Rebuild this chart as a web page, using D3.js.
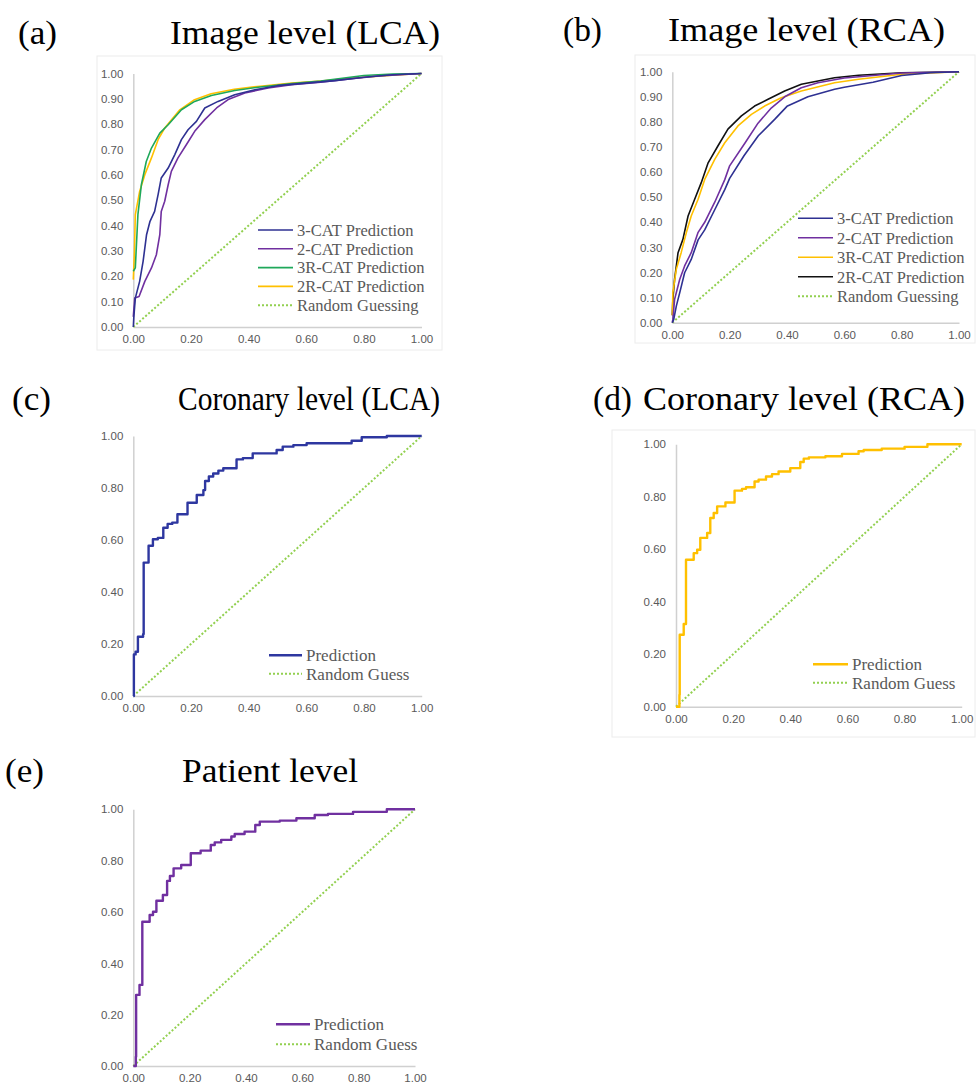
<!DOCTYPE html>
<html>
<head>
<meta charset="utf-8">
<script src="https://cdn.jsdelivr.net/npm/d3@7"></script>
<style>
  body { margin: 0; background: #fff; }
  svg { display: block; }
  .tick text { font-family: "Liberation Sans", Arial, sans-serif; fill: #595959; }
  .title { font-family: "Liberation Serif", "Times New Roman", serif; fill: #000; }
  .legend text { font-family: "Liberation Serif", "Times New Roman", serif; fill: #595959; }
</style>
</head>
<body>
<div class="chart"></div>
<script>
// ---- data: ROC points [FPR, TPR] ----
const diagonal = [[0, 0], [1, 1]];

// (a) Image level (LCA)
const lca3Cat = [[0, 0.0], [0.002, 0.042], [0.007, 0.114], [0.022, 0.18], [0.034, 0.259], [0.046, 0.364], [0.058, 0.417],
  [0.074, 0.456], [0.086, 0.522], [0.097, 0.588], [0.121, 0.627], [0.144, 0.68], [0.167, 0.739], [0.19, 0.778],
  [0.219, 0.811], [0.248, 0.864], [0.294, 0.89], [0.352, 0.916], [0.422, 0.936], [0.5, 0.952], [0.6, 0.962],
  [0.7, 0.972], [0.8, 0.985], [0.9, 0.995], [1, 1]];
const lca2Cat = [[0, 0.04], [0.005, 0.114], [0.02, 0.12], [0.04, 0.18], [0.063, 0.233], [0.08, 0.285], [0.092, 0.364],
  [0.097, 0.456], [0.109, 0.496], [0.121, 0.561], [0.132, 0.614], [0.155, 0.667], [0.184, 0.719], [0.213, 0.772],
  [0.248, 0.818], [0.289, 0.864], [0.329, 0.897], [0.387, 0.923], [0.468, 0.943], [0.55, 0.956], [0.65, 0.966],
  [0.75, 0.978], [0.85, 0.99], [1, 1]];
const lca3RCat = [[0, 0.22], [0.007, 0.233], [0.016, 0.443], [0.028, 0.561], [0.045, 0.653], [0.063, 0.706],
  [0.092, 0.765], [0.121, 0.798], [0.167, 0.857], [0.213, 0.89], [0.271, 0.913], [0.352, 0.933], [0.44, 0.947],
  [0.55, 0.96], [0.65, 0.97], [0.8, 0.992], [0.9, 0.998], [1, 1]];
const lca2RCat = [[0, 0.187], [0.004, 0.3], [0.007, 0.443], [0.022, 0.535], [0.04, 0.601], [0.063, 0.667],
  [0.086, 0.739], [0.109, 0.785], [0.16, 0.855], [0.21, 0.895], [0.27, 0.92], [0.35, 0.938], [0.44, 0.95],
  [0.55, 0.962], [0.65, 0.97], [0.8, 0.985], [0.9, 0.993], [1, 1]];

// (b) Image level (RCA)
const rca3Cat = [[0, 0.0], [0.005, 0.013], [0.014, 0.066], [0.026, 0.12], [0.043, 0.199], [0.066, 0.252],
  [0.09, 0.33], [0.113, 0.37], [0.148, 0.45], [0.183, 0.53], [0.2, 0.575], [0.25, 0.665], [0.3, 0.745],
  [0.357, 0.81], [0.4, 0.862], [0.473, 0.9], [0.566, 0.93], [0.6, 0.938], [0.7, 0.958], [0.8, 0.985],
  [0.9, 0.996], [1, 1]];
const rca2Cat = [[0, 0.0], [0.002, 0.013], [0.008, 0.093], [0.026, 0.173], [0.043, 0.226], [0.066, 0.279],
  [0.09, 0.36], [0.113, 0.4], [0.148, 0.48], [0.183, 0.57], [0.2, 0.625], [0.253, 0.715], [0.299, 0.795],
  [0.345, 0.855], [0.392, 0.9], [0.45, 0.936], [0.508, 0.956], [0.6, 0.975], [0.8, 0.995], [1, 1]];
const rca3RCat = [[0, 0.03], [0.002, 0.12], [0.014, 0.213], [0.031, 0.279], [0.049, 0.359], [0.066, 0.425],
  [0.09, 0.492], [0.113, 0.571], [0.148, 0.651], [0.183, 0.717], [0.229, 0.784], [0.276, 0.83], [0.322, 0.863],
  [0.38, 0.896], [0.45, 0.923], [0.566, 0.956], [0.65, 0.97], [0.8, 0.99], [1, 1]];
const rca2RCat = [[0, 0.03], [0.002, 0.093], [0.008, 0.173], [0.02, 0.279], [0.037, 0.332], [0.055, 0.425],
  [0.078, 0.492], [0.101, 0.558], [0.125, 0.637], [0.159, 0.704], [0.194, 0.771], [0.241, 0.824], [0.287, 0.863],
  [0.334, 0.89], [0.392, 0.923], [0.45, 0.95], [0.566, 0.976], [0.65, 0.986], [0.8, 0.996], [1, 1]];

// (c) Coronary level (LCA) - step curve, [FPR where TPR rises, new TPR]
const coronaryLca = [[0, 0], [0.002, 0.16], [0.008, 0.17], [0.016, 0.228], [0.034, 0.238], [0.036, 0.513],
  [0.053, 0.578], [0.068, 0.603], [0.085, 0.608], [0.104, 0.647], [0.119, 0.662], [0.135, 0.667], [0.153, 0.699],
  [0.188, 0.743], [0.22, 0.773], [0.243, 0.792], [0.249, 0.827], [0.262, 0.844], [0.277, 0.856], [0.295, 0.867],
  [0.312, 0.876], [0.358, 0.91], [0.38, 0.915], [0.414, 0.933], [0.497, 0.946], [0.518, 0.959], [0.555, 0.965],
  [0.601, 0.972], [0.757, 0.982], [0.792, 0.995], [0.879, 1.0], [1, 1]];

// (d) Coronary level (RCA)
const coronaryRca = [[0, 0], [0.012, 0.046], [0.013, 0.274], [0.027, 0.315], [0.035, 0.56], [0.062, 0.585],
  [0.074, 0.598], [0.085, 0.643], [0.109, 0.662], [0.12, 0.719], [0.132, 0.738], [0.144, 0.763], [0.173, 0.778],
  [0.205, 0.823], [0.231, 0.83], [0.245, 0.836], [0.275, 0.858], [0.289, 0.865], [0.315, 0.877], [0.336, 0.886],
  [0.359, 0.896], [0.4, 0.909], [0.435, 0.932], [0.447, 0.945], [0.465, 0.95], [0.523, 0.954], [0.581, 0.963],
  [0.639, 0.973], [0.657, 0.978], [0.72, 0.983], [0.8, 0.99], [0.88, 1.0], [1, 1]];

// (e) Patient level
const patient = [[0, 0], [0.009, 0.036], [0.01, 0.277], [0.022, 0.316], [0.032, 0.562], [0.058, 0.588],
  [0.07, 0.601], [0.082, 0.644], [0.105, 0.666], [0.12, 0.721], [0.13, 0.74], [0.143, 0.77], [0.17, 0.783],
  [0.204, 0.829], [0.239, 0.839], [0.275, 0.861], [0.289, 0.871], [0.312, 0.881], [0.348, 0.894], [0.36, 0.904],
  [0.395, 0.913], [0.433, 0.939], [0.449, 0.952], [0.52, 0.956], [0.579, 0.965], [0.644, 0.978], [0.691, 0.982],
  [0.78, 0.99], [0.9, 1.0], [1, 1]];

const xTicks = [0, 0.2, 0.4, 0.6, 0.8, 1.0];
const yTicksFine = [0, 0.1, 0.2, 0.3, 0.4, 0.5, 0.6, 0.7, 0.8, 0.9, 1.0];
const yTicksCoarse = [0, 0.2, 0.4, 0.6, 0.8, 1.0];

const navy = '#2e3192';
const purple = '#7030a0';
const green = '#1fa85a';
const gold = '#ffc000';
const guess = '#92d050';

const panels = [
  {
    tag: '(a)', title: 'Image level (LCA)', tagX: 18, titleX: 170, titleW: 270, baseY: 44,
    x0: 133.3, x1: 421.5, yTop: 73.5, yBot: 327, yTicks: yTicksFine, frame: [97, 56, 345, 294],
    legend: { lx: 258, tx: 297, y: 230, dy: 18.8, size: 16.5 },
    series: [
      { name: '3-CAT Prediction', data: lca3Cat, color: navy, w: 1.6 },
      { name: '2-CAT Prediction', data: lca2Cat, color: purple, w: 1.6 },
      { name: '3R-CAT Prediction', data: lca3RCat, color: green, w: 1.6 },
      { name: '2R-CAT Prediction', data: lca2RCat, color: gold, w: 1.6 },
      { name: 'Random Guessing', data: diagonal, color: guess, w: 2, dash: true },
    ],
  },
  {
    tag: '(b)', title: 'Image level (RCA)', tagX: 563, titleX: 668, titleW: 277, baseY: 41,
    x0: 672.3, x1: 959, yTop: 71.7, yBot: 322.7, yTicks: yTicksFine, frame: [635, 55, 340, 288],
    legend: { lx: 798, tx: 837, y: 218.3, dy: 19.5, size: 16.5 },
    series: [
      { name: '3-CAT Prediction', data: rca3Cat, color: navy, w: 1.6 },
      { name: '2-CAT Prediction', data: rca2Cat, color: purple, w: 1.6 },
      { name: '3R-CAT Prediction', data: rca3RCat, color: gold, w: 1.6 },
      { name: '2R-CAT Prediction', data: rca2RCat, color: '#111', w: 1.6 },
      { name: 'Random Guessing', data: diagonal, color: guess, w: 2, dash: true },
    ],
  },
  {
    tag: '(c)', title: 'Coronary level (LCA)', tagX: 12, titleX: 178, titleW: 262, baseY: 410,
    x0: 133.3, x1: 421.7, yTop: 436, yBot: 696, yTicks: yTicksCoarse, frame: null,
    legend: { lx: 269, tx: 306, y: 655.3, dy: 18.5, size: 17 },
    series: [
      { name: 'Prediction', data: coronaryLca, color: '#2e37a0', w: 2.4, step: true },
      { name: 'Random Guess', data: diagonal, color: guess, w: 2, dash: true },
    ],
  },
  {
    tag: '(d)', title: 'Coronary level (RCA)', tagX: 593, titleX: 643, titleW: 322, baseY: 410,
    x0: 676, x1: 961.7, yTop: 444.2, yBot: 706.7, yTicks: yTicksCoarse, frame: [612, 430, 363, 307],
    legend: { lx: 813, tx: 852, y: 664.3, dy: 18.5, size: 17 },
    series: [
      { name: 'Prediction', data: coronaryRca, color: gold, w: 2.4, step: true },
      { name: 'Random Guess', data: diagonal, color: guess, w: 2, dash: true },
    ],
  },
  {
    tag: '(e)', title: 'Patient level', tagX: 5, titleX: 182, titleW: 176, baseY: 782,
    x0: 133.3, x1: 415, yTop: 809.3, yBot: 1066, yTicks: yTicksCoarse, frame: null,
    legend: { lx: 276, tx: 314, y: 1024.3, dy: 20, size: 17 },
    series: [
      { name: 'Prediction', data: patient, color: purple, w: 2.4, step: true },
      { name: 'Random Guess', data: diagonal, color: guess, w: 2, dash: true },
    ],
  },
];

const svg = d3.select('.chart').append('svg').attr('width', 976).attr('height', 1089);

panels.forEach((p) => {
  const g = svg.append('g');

  if (p.frame) {
    g.append('rect')
      .attr('x', p.frame[0]).attr('y', p.frame[1])
      .attr('width', p.frame[2]).attr('height', p.frame[3])
      .attr('fill', 'none').attr('stroke', '#ececec').attr('stroke-width', 1);
  }

  // titles
  g.append('text').attr('class', 'title')
    .attr('x', p.tagX).attr('y', p.baseY)
    .style('font-size', '34px')
    .attr('textLength', 39).attr('lengthAdjust', 'spacingAndGlyphs')
    .text(p.tag);
  g.append('text').attr('class', 'title')
    .attr('x', p.titleX).attr('y', p.baseY)
    .style('font-size', '34px')
    .attr('textLength', p.titleW).attr('lengthAdjust', 'spacingAndGlyphs')
    .text(p.title);

  const x = d3.scaleLinear().domain([0, 1]).range([p.x0, p.x1]);
  const y = d3.scaleLinear().domain([0, 1]).range([p.yBot, p.yTop]);

  const xAxis = g.append('g')
    .attr('transform', `translate(0,${p.yBot})`)
    .call(d3.axisBottom(x).tickValues(xTicks).tickFormat(d3.format('.2f')).tickSize(0).tickPadding(8));
  const yAxis = g.append('g')
    .attr('transform', `translate(${p.x0},0)`)
    .call(d3.axisLeft(y).tickValues(p.yTicks).tickFormat(d3.format('.2f')).tickSize(0).tickPadding(10));

  [xAxis, yAxis].forEach((ax) => {
    ax.select('.domain').attr('stroke', '#d0d0d0').attr('stroke-width', 1.5);
    ax.selectAll('.tick text').style('font-size', '11.5px');
  });

  // curves
  const plot = g.append('g');
  p.series.slice().reverse().forEach((s) => {
    const line = d3.line()
      .x((d) => x(d[0]))
      .y((d) => y(d[1]))
      .curve(s.step ? d3.curveStepAfter : d3.curveLinear);
    plot.append('path')
      .datum(s.data)
      .attr('fill', 'none')
      .attr('stroke', s.color)
      .attr('stroke-width', s.w)
      .attr('stroke-linejoin', 'round')
      .attr('stroke-dasharray', s.dash ? '2,2' : null)
      .attr('d', line);
  });

  // legend
  const lg = g.append('g').attr('class', 'legend');
  p.series.forEach((s, i) => {
    const yy = p.legend.y + i * p.legend.dy;
    lg.append('line')
      .attr('x1', p.legend.lx).attr('x2', p.legend.tx - 4)
      .attr('y1', yy).attr('y2', yy)
      .attr('stroke', s.color)
      .attr('stroke-width', s.dash ? 2 : s.w)
      .attr('stroke-dasharray', s.dash ? '2,2' : null);
    lg.append('text')
      .attr('x', p.legend.tx).attr('y', yy)
      .attr('dy', '0.35em')
      .style('font-size', p.legend.size + 'px')
      .text(s.name);
  });
});
</script>
</body>
</html>
